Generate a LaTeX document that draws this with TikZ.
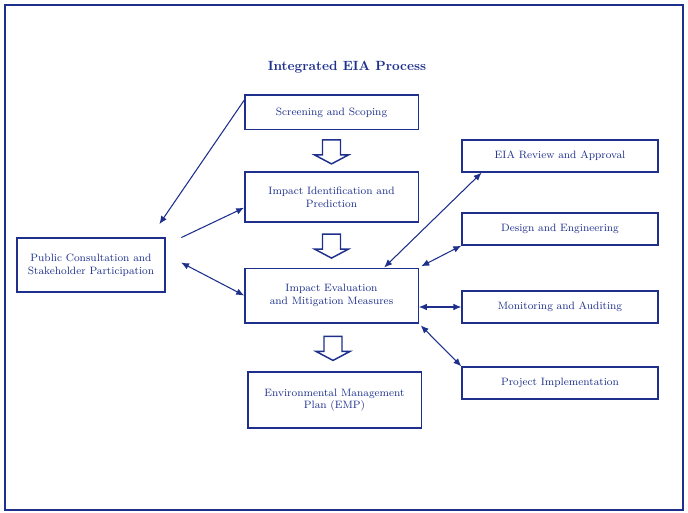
\documentclass[tikz,border=0pt]{standalone}
\usepackage{xcolor}
\usepackage{tikz}
\usetikzlibrary{calc,positioning,arrows.meta}
\definecolor{eiablue}{RGB}{30,48,140}

\begin{document}
\begin{tikzpicture}[x=0.75pt,y=0.75pt,yscale=-1,xscale=1,
  stepbox/.style={draw=eiablue,line width=1pt,text=eiablue,align=center,font=\footnotesize,inner sep=2pt},
  conn/.style={draw=eiablue,line width=0.8pt,>={Latex[length=6pt,width=5pt]}},
  hollowarrow/.style={draw=eiablue,line width=1.1pt,line join=miter}]
\useasboundingbox (0,0) rectangle (688,513);

%Frame
\draw [eiablue,line width=1.5pt] (5,5) rectangle (683,510);

% Title
\node (title) at (347,67) [text=eiablue,font=\bfseries] {Integrated EIA Process};

%Main steps
\node (b1) at (331.5,112.5) [stepbox,minimum width=130pt,minimum height=26pt] {Screening and Scoping};
\node (b2) at (331.5,197) [stepbox,minimum width=130pt,minimum height=37.5pt] {Impact Identification and\\Prediction};
\node (b3) at (331.5,295.5) [stepbox,minimum width=130pt,minimum height=41pt] {Impact Evaluation\\and Mitigation Measures};
\node (b4) at (334.5,400) [stepbox,minimum width=130pt,minimum height=42pt] {Environmental Management\\Plan (EMP)};

%Consultation
\node (lb) at (91,265) [stepbox,minimum width=111pt,minimum height=40.5pt] {Public Consultation and\\Stakeholder Participation};

%Right side
\node (r1) at (560,156) [stepbox,minimum width=147pt,minimum height=24pt] {EIA Review and Approval};
\node (r2) at (560,229) [stepbox,minimum width=147pt,minimum height=24pt] {Design and Engineering};
\node (r3) at (560,307) [stepbox,minimum width=147pt,minimum height=24pt] {Monitoring and Auditing};
\node (r4) at (560,383) [stepbox,minimum width=147pt,minimum height=24pt] {Project Implementation};

%Hollow arrows between steps
\foreach \a/\b in {b1/b2,b2/b3,b3/b4}
  \draw [hollowarrow] ($(\a.south)!0.5!(\b.north)+(-9,-11)$) -- ++(0,15) -- ++(-8,0) -- ++(17,9) -- ++(17,-9) -- ++(-8,0) -- ++(0,-15) -- cycle;

%Connectors
\draw [conn,->,shorten >=12pt] (b1.172) -- (lb.25);
\draw [conn,->,shorten <=13pt] (lb.15) -- (b2.187);
\draw [conn,<->,shorten <=13pt] (lb.8) -- (b3.west);
\draw [conn,<->] (b3.28) -- (r1.192);
\draw [conn,<->,shorten <=2pt] (b3.north east) -- (r2.south west);
\draw [conn,<->] (b3.east |- r3.west) -- (r3.west);
\draw [conn,<->,shorten <=2pt] (b3.south east) -- (r4.north west);

\end{tikzpicture}
\end{document}
